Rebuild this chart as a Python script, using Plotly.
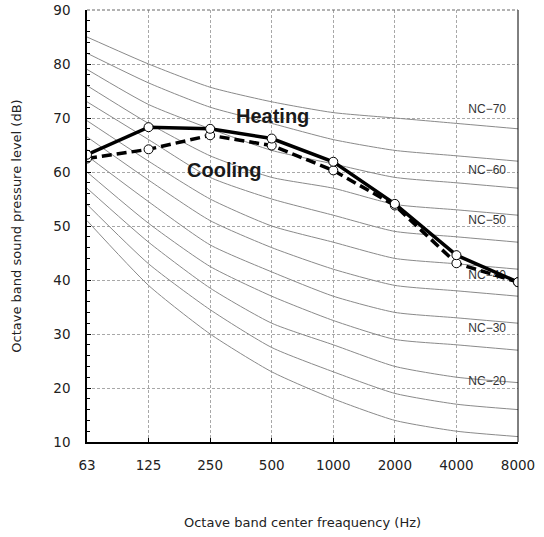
import plotly.graph_objects as go

freq_labels = ["63", "125", "250", "500", "1000", "2000", "4000", "8000"]

nc_names = ["NC-15", "NC-20", "NC-25", "NC-30", "NC-35", "NC-40",
            "NC-45", "NC-50", "NC-55", "NC-60", "NC-65", "NC-70"]
nc_15 = [51, 39, 30, 23, 18, 14, 12, 11]
nc_20 = [54, 43, 34.5, 27.5, 23, 19, 17, 16]
nc_25 = [57, 47, 38.5, 32, 28, 24, 22, 21]
nc_30 = [60, 50.5, 42.5, 37, 32.5, 29, 28, 27]
nc_35 = [63, 54.5, 46.5, 41.5, 37, 34, 33, 32]
nc_40 = [66.5, 58.5, 51, 46, 42, 39, 38, 37]
nc_45 = [69.5, 62, 55, 50, 47, 44, 43, 42]
nc_50 = [73, 66, 59, 55, 52, 49, 48, 47]
nc_55 = [76, 69, 63, 59, 57, 54, 53, 52]
nc_60 = [79, 72.5, 68, 64, 61.5, 59, 58, 57]
nc_65 = [82, 76.5, 72, 69, 66, 64, 63, 62]
nc_70 = [85, 80, 75.7, 73, 71, 70, 69, 68]
nc_curves = [nc_15, nc_20, nc_25, nc_30, nc_35, nc_40,
             nc_45, nc_50, nc_55, nc_60, nc_65, nc_70]

nc_label_text = ["NC\u221270", "NC\u221260", "NC\u221250", "NC\u221240", "NC\u221230", "NC\u221220"]
nc_label_y = [71.5, 60.1, 50.9, 40.7, 31.0, 21.2]
nc_label_x = 6.5

heating = [63.2, 68.3, 68.0, 66.2, 61.9, 54.1, 44.6, 39.6]
cooling = [62.5, 64.2, 66.8, 64.9, 60.3, 53.8, 43.1, 39.6]

xs = list(range(len(freq_labels)))

fig = go.Figure()

for name, vals in zip(nc_names, nc_curves):
    fig.add_trace(go.Scatter(
        x=xs, y=vals, mode="lines", name=name,
        line=dict(color="#8a8a8a", width=1, shape="spline", smoothing=0.6),
        showlegend=False, hoverinfo="skip"))

fig.add_trace(go.Scatter(
    x=[nc_label_x] * len(nc_label_text), y=nc_label_y, text=nc_label_text,
    mode="text", textposition="middle center",
    textfont=dict(family="Liberation Sans, Arial, sans-serif", size=12, color="#333333"),
    showlegend=False, hoverinfo="skip"))

marker_style = dict(symbol="circle", size=9, color="white",
                    line=dict(color="black", width=1))

fig.add_trace(go.Scatter(
    x=xs, y=cooling, mode="lines+markers", name="Cooling",
    line=dict(color="black", width=3.5, dash="10px,5px"),
    marker=marker_style, showlegend=False))
fig.add_trace(go.Scatter(
    x=xs, y=heating, mode="lines+markers", name="Heating",
    line=dict(color="black", width=3.5),
    marker=marker_style, showlegend=False))

fig.add_annotation(x=3.02, y=70.3, text="<b>Heating</b>", showarrow=False,
                   font=dict(family="Liberation Sans, Arial, sans-serif", size=20, color="#1a1a1a"))
fig.add_annotation(x=2.23, y=60.3, text="<b>Cooling</b>", showarrow=False,
                   font=dict(family="Liberation Sans, Arial, sans-serif", size=20, color="#1a1a1a"))

grid_col = "#a8a8a8"
fig.update_xaxes(
    range=[0, 7], tickmode="array", tickvals=xs, ticktext=freq_labels,
    showgrid=True, gridcolor=grid_col, griddash="3px,2px", gridwidth=1,
    showline=True, linecolor="black", linewidth=1.6,
    ticks="inside", ticklen=4, tickcolor="black", tickwidth=1.2,
    ticklabelstandoff=10, automargin=False, ticklabeloverflow="allow",
    tickfont=dict(family="DejaVu Sans, Verdana, sans-serif", size=13.5, color="#222222"),
    title=dict(text="Octave band center freaquency (Hz)", standoff=46,
               font=dict(family="DejaVu Sans, Verdana, sans-serif", size=13, color="#222222")),
    zeroline=False, fixedrange=True)
fig.update_yaxes(
    range=[10, 90], dtick=10, tick0=10,
    showgrid=True, gridcolor=grid_col, griddash="3px,2px", gridwidth=1,
    showline=True, linecolor="black", linewidth=1.6,
    ticks="inside", ticklen=4, tickcolor="black", tickwidth=1.2,
    minor=dict(dtick=2, ticks="inside", ticklen=3, tickcolor="black", showgrid=False),
    ticklabelstandoff=12, automargin=False, ticklabeloverflow="allow",
    tickfont=dict(family="DejaVu Sans, Verdana, sans-serif", size=13.5, color="#222222"),
    title=dict(text="Octave band sound pressure level (dB)", standoff=29,
               font=dict(family="DejaVu Sans, Verdana, sans-serif", size=13, color="#222222")),
    zeroline=False, fixedrange=True)

fig.add_shape(type="line", xref="paper", yref="paper", x0=1, x1=1, y0=0, y1=1,
              line=dict(color="black", width=1))
fig.add_shape(type="line", xref="paper", yref="paper", x0=0, x1=1, y0=1, y1=1,
              line=dict(color="#666666", width=1, dash="3px,2px"))

fig.update_layout(
    width=544, height=537,
    margin=dict(l=87, r=26, t=10, b=95, autoexpand=False),
    paper_bgcolor="white", plot_bgcolor="white",
    showlegend=False)

fig.write_html("out.html", config={"displayModeBar": False},
               post_script="document.body.style.margin='0';")
